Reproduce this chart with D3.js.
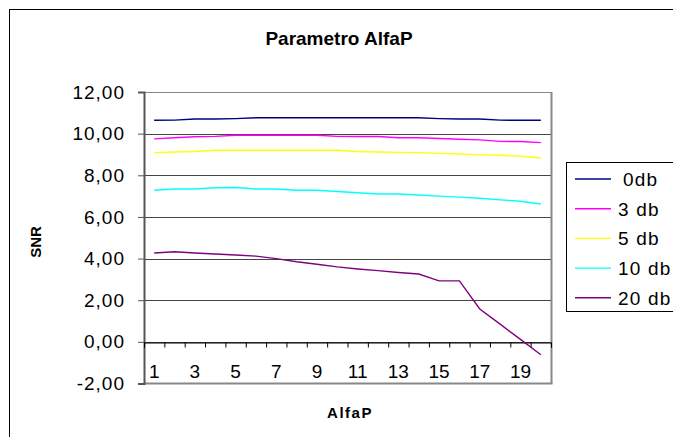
<!DOCTYPE html>
<html>
<head>
<meta charset="utf-8">
<script src="https://cdn.jsdelivr.net/npm/d3@7"></script>
<style>
  body { margin: 0; background: #fff; }
  svg text { font-family: "Liberation Sans", Arial, sans-serif; }
</style>
</head>
<body>
<div id="chart-area"></div>
<script>
const categories = d3.range(1, 21);
const xLabels = [1, 3, 5, 7, 9, 11, 13, 15, 17, 19];
const yTicks = [-2, 0, 2, 4, 6, 8, 10, 12];

const seriesNames = ['0db', '3 db', '5 db', '10 db', '20 db'];
const seriesColors = ['#000080', '#ff00ff', '#ffff00', '#00ffff', '#800080'];

const snr0 = [10.64, 10.65, 10.7, 10.7, 10.72, 10.76, 10.76, 10.76, 10.76, 10.76,
  10.76, 10.76, 10.76, 10.76, 10.72, 10.7, 10.7, 10.65, 10.64, 10.64];
const snr3 = [9.75, 9.8, 9.85, 9.87, 9.92, 9.92, 9.92, 9.92, 9.92, 9.87,
  9.86, 9.86, 9.8, 9.8, 9.77, 9.73, 9.7, 9.63, 9.62, 9.57];
const snr5 = [9.09, 9.12, 9.14, 9.2, 9.2, 9.2, 9.2, 9.2, 9.2, 9.2,
  9.14, 9.12, 9.1, 9.09, 9.05, 9.02, 8.98, 8.96, 8.92, 8.83];
const snr10 = [7.28, 7.34, 7.34, 7.4, 7.41, 7.34, 7.34, 7.28, 7.28, 7.22,
  7.16, 7.1, 7.1, 7.05, 7.0, 6.95, 6.9, 6.82, 6.75, 6.62];
const snr20 = [4.27, 4.33, 4.27, 4.22, 4.17, 4.12, 4.0, 3.85, 3.73, 3.6,
  3.5, 3.42, 3.33, 3.26, 2.93, 2.93, 1.58, 0.85, 0.12, -0.62];

const seriesValues = [snr0, snr3, snr5, snr10, snr20];

const drawChart = () => {
  const svg = d3.select('#chart-area')
    .append('svg')
    .attr('width', 673)
    .attr('height', 437);

  // outer chart frame
  svg.append('rect')
    .attr('x', 9.5).attr('y', 9.5)
    .attr('width', 700).attr('height', 460)
    .attr('fill', 'none').attr('stroke', '#000');

  const plot = { left: 144, right: 551, top: 92, bottom: 383.5 };

  const x = d3.scaleBand()
    .domain(categories)
    .range([plot.left, plot.right])
    .padding(0);

  const xEdges = d3.scaleLinear()
    .domain([0, categories.length])
    .range([plot.left, plot.right]);

  const y = d3.scaleLinear()
    .domain([d3.min(yTicks), d3.max(yTicks)])
    .range([plot.bottom, plot.top]);

  svg.append('text')
    .attr('x', 339).attr('y', 45)
    .attr('text-anchor', 'middle')
    .attr('font-size', 19).attr('font-weight', 'bold')
    .text('Parametro AlfaP');

  // gridlines
  svg.append('g').selectAll('line')
    .data(yTicks.filter(t => t !== d3.min(yTicks)))
    .enter().append('line')
    .attr('x1', plot.left).attr('x2', plot.right)
    .attr('y1', d => Math.round(y(d)) + 0.5)
    .attr('y2', d => Math.round(y(d)) + 0.5)
    .attr('stroke', d => d === d3.max(yTicks) ? '#888' : '#444');

  // plot border right / bottom
  svg.append('line')
    .attr('x1', plot.right + 0.5).attr('x2', plot.right + 0.5)
    .attr('y1', plot.top).attr('y2', plot.bottom)
    .attr('stroke', '#888').attr('stroke-width', 2);
  svg.append('line')
    .attr('x1', plot.left).attr('x2', plot.right + 1.5)
    .attr('y1', plot.bottom).attr('y2', plot.bottom)
    .attr('stroke', '#888').attr('stroke-width', 2);

  // y axis
  const yAxis = d3.axisLeft(y)
    .tickValues(yTicks)
    .tickSize(6)
    .tickFormat(d => d.toFixed(2).replace('.', ','));
  const gy = svg.append('g')
    .attr('transform', `translate(${plot.left},0)`)
    .call(yAxis);
  gy.select('.domain').attr('stroke', '#555').attr('stroke-width', 2);
  gy.selectAll('.tick line').attr('stroke', '#555');
  gy.selectAll('.tick text')
    .attr('x', -19)
    .attr('font-size', 19)
    .attr('letter-spacing', 1)
    .attr('fill', '#000')
    .style('font-family', '"Liberation Sans", Arial, sans-serif');

  // x axis at zero
  const xAxis = d3.axisBottom(xEdges)
    .tickValues(d3.range(0, categories.length + 1))
    .tickSize(5)
    .tickSizeOuter(5)
    .tickFormat('');
  const gx = svg.append('g')
    .attr('transform', `translate(0,${Math.round(y(0)) + 0.5})`)
    .call(xAxis);
  gx.select('.domain').attr('stroke', '#000');
  gx.selectAll('.tick line').attr('stroke', '#000');

  svg.append('g').selectAll('text')
    .data(xLabels)
    .enter().append('text')
    .attr('x', d => x(d) + x.bandwidth() / 2)
    .attr('y', 378)
    .attr('text-anchor', 'middle')
    .attr('font-size', 19)
    .text(d => d);

  // series lines
  const line = d3.line()
    .x((v, i) => x(categories[i]) + x.bandwidth() / 2)
    .y(v => y(v));

  svg.append('g').selectAll('path')
    .data(seriesValues)
    .enter().append('path')
    .attr('d', line)
    .attr('fill', 'none')
    .attr('stroke', (d, i) => seriesColors[i])
    .attr('stroke-width', 1.4);

  // axis titles
  svg.append('text')
    .attr('transform', 'translate(41,242) rotate(-90)')
    .attr('text-anchor', 'middle')
    .attr('font-size', 15).attr('font-weight', 'bold')
    .text('SNR');

  svg.append('text')
    .attr('x', 350).attr('y', 418)
    .attr('text-anchor', 'middle')
    .attr('font-size', 15).attr('font-weight', 'bold')
    .attr('letter-spacing', 1.5)
    .text('AlfaP');

  // legend
  const legend = svg.append('g');
  legend.append('rect')
    .attr('x', 566.5).attr('y', 162.5)
    .attr('width', 120).attr('height', 149)
    .attr('fill', '#fff').attr('stroke', '#000');

  const rows = legend.selectAll('g.row')
    .data(seriesNames)
    .enter().append('g')
    .attr('class', 'row')
    .attr('transform', (d, i) => `translate(0,${179 + i * 29.7})`);
  rows.append('line')
    .attr('x1', 575).attr('x2', 611)
    .attr('stroke', (d, i) => seriesColors[i])
    .attr('stroke-width', 1.4);
  rows.append('text')
    .attr('x', (d, i) => i === 0 ? 623 : 618)
    .attr('y', 7)
    .attr('font-size', 19)
    .attr('letter-spacing', 1.2)
    .text(d => d);
};

window.onload = drawChart;
</script>
</body>
</html>
